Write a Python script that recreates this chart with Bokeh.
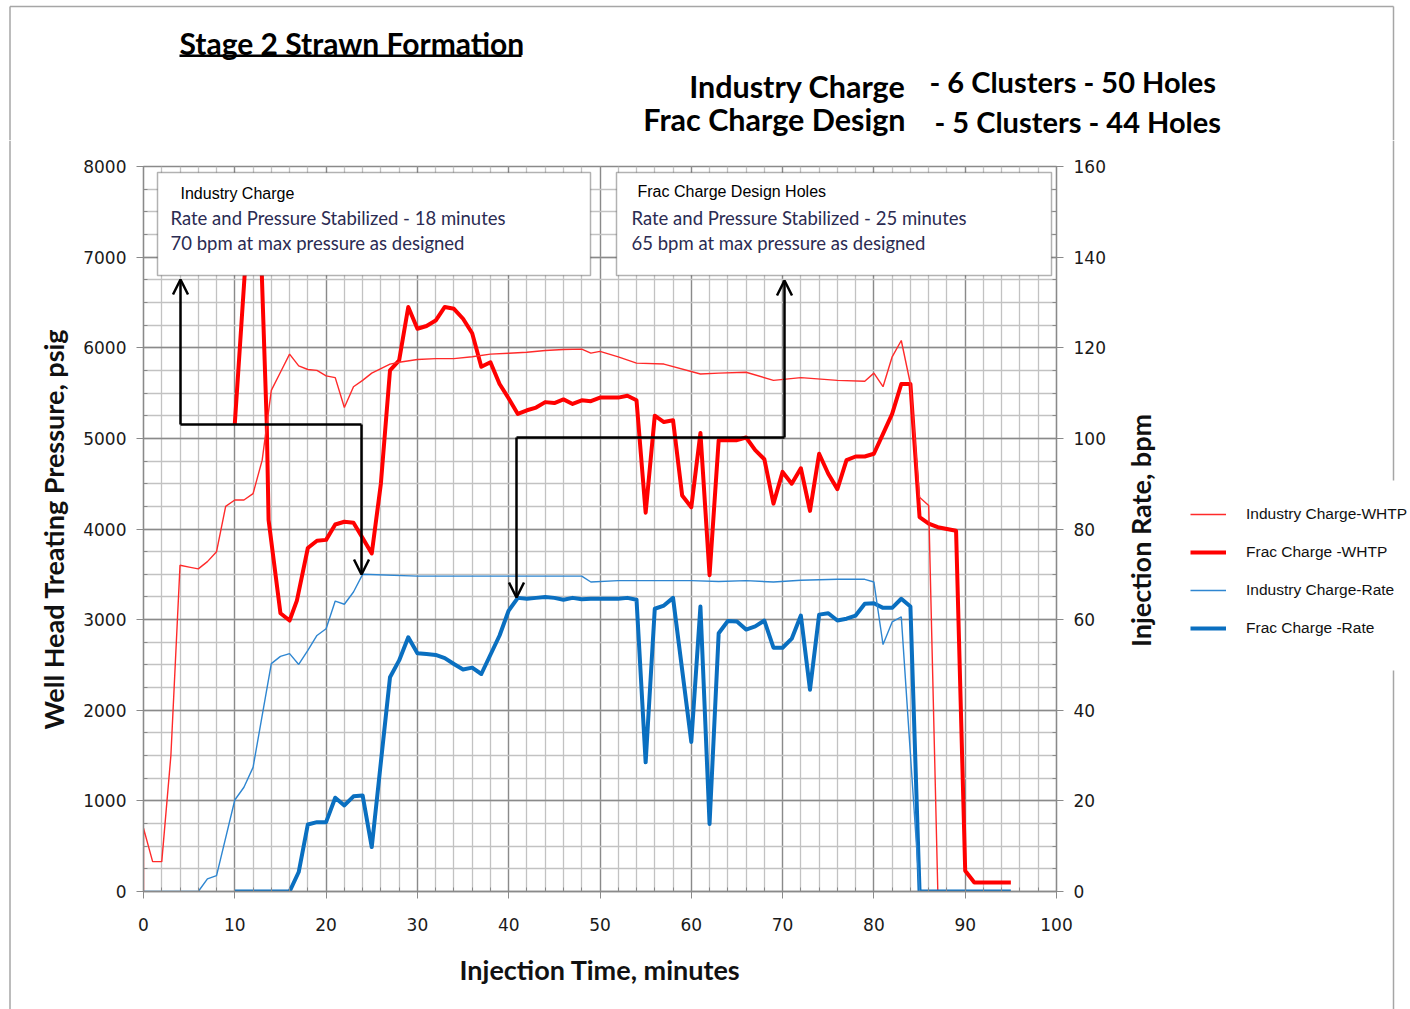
import math
from bokeh.plotting import figure
from bokeh.layouts import column, row
from bokeh.models import (Range1d, LinearAxis, FixedTicker, BoxAnnotation, Label, Arrow, OpenHead,
                          Legend, LegendItem)
from bokeh.embed import file_html
from bokeh.resources import INLINE

# ---------------- data ----------------
# Industry Charge - WHTP (psig)
ind_t = [0, 0, 1, 2, 3, 4, 5, 6, 7, 8, 9, 10, 11, 12, 13, 14, 15, 16, 17, 18, 19, 20, 21, 22, 23, 24, 25,
         26, 27, 28, 30, 32, 34, 36, 38, 40, 42, 44, 46, 48, 49, 50, 52, 54, 57, 61, 63, 66, 69, 72, 76, 79,
         80, 81, 82, 83, 84, 85, 86, 87]
ind_p = [0, 700, 330, 330, 1500, 3600, 3580, 3560, 3640, 3750, 4250, 4320, 4320, 4390, 4760, 5530, 5730,
         5930, 5800, 5760, 5750, 5690, 5670, 5340, 5570, 5640, 5720, 5770, 5820, 5840, 5870, 5880, 5880,
         5900, 5930, 5940, 5950, 5970, 5980, 5985, 5940, 5960, 5900, 5830, 5820, 5710, 5720, 5730, 5640,
         5670, 5640, 5630, 5720, 5570, 5900, 6080, 5600, 4350, 4260, 0]

# Frac Charge - WHTP (psig)
frac_t = [10, 11.8, 12.6, 13.5, 13.7, 15, 16, 16.8, 18, 19, 20, 21, 22, 23, 24, 25, 26, 27, 28, 29, 30,
          31, 32, 33, 34, 35, 36, 37, 38, 39, 40, 41, 42, 43, 44, 45, 46, 47, 48, 49, 50, 51, 52, 53, 54,
          55, 56, 57, 58, 59, 60, 61, 62, 63, 64, 65, 66, 67, 68, 69, 70, 71, 72, 73, 74, 75, 76, 77, 78,
          79, 80, 81, 82, 83, 84, 85, 86, 87, 88, 89, 90, 91, 92, 93, 94, 95]
frac_p = [5160, 7900, 7900, 5160, 4100, 3070, 2990, 3210, 3790, 3870, 3880, 4050, 4080, 4070, 3900, 3730,
          4500, 5750, 5860, 6450, 6210, 6240, 6300, 6450, 6430, 6320, 6160, 5790, 5840, 5600, 5440, 5270,
          5310, 5340, 5400, 5390, 5430, 5380, 5420, 5410, 5450, 5450, 5450, 5470, 5420, 4180, 5250, 5180,
          5200, 4370, 4240, 5060, 3490, 4980, 4980, 4980, 5010, 4870, 4770, 4280, 4630, 4500, 4670, 4200,
          4830, 4610, 4440, 4760, 4800, 4800, 4830, 5050, 5270, 5600, 5600, 4130, 4060, 4020, 4000, 3980,
          230, 100, 100, 100, 100, 100]

# Industry Charge - Rate (bpm)
indr_t = [0, 6, 7, 8, 10, 11, 12, 14, 15, 16, 17, 18, 19, 20, 21, 22, 23, 24, 30, 36, 42, 48, 49, 52,
          56, 60, 63, 66, 69, 72, 76, 79, 80, 81, 82, 83, 85]
indr_r = [0, 0, 2.8, 3.5, 20.2, 23.0, 27.4, 50.3, 51.9, 52.5, 50.1, 53.2, 56.5, 58.0, 64.1, 63.4, 66.1,
          70.0, 69.6, 69.6, 69.6, 69.6, 68.3, 68.6, 68.6, 68.6, 68.4, 68.6, 68.3, 68.7, 68.9, 68.9, 68.3,
          54.5, 59.5, 60.6, 0]

# Frac Charge - Rate (bpm)
fracr_t = [10, 16, 17, 18, 19, 20, 21, 22, 23, 24, 25, 27, 28, 29, 30, 31, 32, 33, 34, 35, 36, 37, 39,
           40, 41, 42, 43, 44, 45, 46, 47, 48, 49, 50, 51, 52, 53, 54, 55, 56, 57, 58, 60, 61, 62, 63, 64,
           65, 66, 67, 68, 69, 70, 71, 72, 73, 74, 75, 76, 77, 78, 79, 80, 81, 82, 83, 84, 85, 95]
fracr_r = [0, 0, 4.3, 14.8, 15.3, 15.3, 20.7, 19.0, 21.0, 21.2, 9.8, 47.3, 51.0, 56.1, 52.6, 52.4, 52.2,
           51.5, 50.2, 49.0, 49.4, 48.0, 56.5, 62.0, 64.8, 64.6, 64.8, 65.0, 64.8, 64.4, 64.8, 64.5, 64.6,
           64.6, 64.6, 64.6, 64.8, 64.4, 28.5, 62.4, 63.1, 64.8, 33.0, 62.9, 14.9, 57.0, 59.7, 59.6, 57.8,
           58.5, 59.8, 53.8, 53.8, 55.8, 60.9, 44.5, 61.1, 61.4, 59.8, 60.2, 60.9, 63.5, 63.6, 62.6, 62.6,
           64.6, 62.9, 0, 0]

series_names = ["Industry Charge-WHTP", "Frac Charge -WHTP", "Industry Charge-Rate", "Frac Charge -Rate"]

x_ticks = list(range(0, 101, 10))
x_minor = list(range(0, 101, 2))
p_ticks = list(range(0, 8001, 1000))
p_minor = list(range(0, 8001, 250))
r_ticks = list(range(0, 161, 20))
r_minor = list(range(0, 161, 5))

# ---------------- page geometry (image pixels) ----------------
W, H = 1410, 1009
HEAD_H = 140            # header strip height
STRIP_W = 20            # left strip (outer border)
MAIN_R = 1115           # right edge of main chart canvas
FL, FR, FT, FB = 143, 1056, 166, 891   # plot frame
BORDER_C = "#a6a6a6"

def dx(px):
    return (px - FL) * 100.0 / (FR - FL)
def dy(py):
    return (FB - py) * 8000.0 / (FB - FT)

def no_align(f):
    try:
        f.frame_align = False
    except Exception:
        pass
    return f

def blank(w, h, x0, x1, y0, y1):
    f = figure(width=w, height=h, x_range=Range1d(x0, x1), y_range=Range1d(y1, y0),
               x_axis_type=None, y_axis_type=None, min_border=0,
               toolbar_location=None, output_backend="svg")
    f.outline_line_color = None
    f.grid.visible = False
    return no_align(f)

# ---------------- header (titles) ----------------
head = blank(W, HEAD_H, 0, W, 0, HEAD_H)
head.segment(x0=[9.5, 9.5, 1393], y0=[6, 6, 6], x1=[1393, 9.5, 1393], y1=[6, HEAD_H, HEAD_H],
             line_color=BORDER_C, line_width=1.5)

def hlab(f, x, y, text, size, align="left", font="Lato", style="bold", color="black", angle=0.0):
    f.add_layout(Label(x=x, y=y, text=text, text_font=font, text_font_size=size, text_font_style=style,
                       text_color=color, text_align=align, text_baseline="middle", angle=angle))

hlab(head, 179, 42, "Stage 2 Strawn Formation", "30px")
head.add_layout(BoxAnnotation(left=179, right=521, top=54, bottom=56.5, fill_color="black",
                              fill_alpha=1, line_color=None))
hlab(head, 905, 85, "Industry Charge", "30.5px", align="right")
hlab(head, 929, 81, "- 6 Clusters - 50 Holes", "29px")
hlab(head, 905, 118, "Frac Charge Design", "30.5px", align="right")
hlab(head, 934, 121, "- 5 Clusters - 44 Holes", "29px")

# ---------------- left strip (outer border) ----------------
strip = blank(STRIP_W, H - HEAD_H, 0, STRIP_W, HEAD_H, H)
strip.segment(x0=[9.5], y0=[HEAD_H], x1=[9.5], y1=[H], line_color=BORDER_C, line_width=1.5)

# ---------------- main chart ----------------
p = figure(width=MAIN_R - STRIP_W, height=H - HEAD_H, x_range=Range1d(0, 100), y_range=Range1d(0, 8000),
           output_backend="svg", toolbar_location=None,
           min_border_left=FL - STRIP_W, min_border_right=MAIN_R - FR,
           min_border_top=FT - HEAD_H, min_border_bottom=H - FB)
no_align(p)
p.extra_y_ranges = {"rate": Range1d(0, 160)}
p.outline_line_color = "#8a8a8a"
p.outline_line_width = 1.3

xt = FixedTicker(ticks=x_ticks, minor_ticks=x_minor)
yt = FixedTicker(ticks=p_ticks, minor_ticks=p_minor)
rt = FixedTicker(ticks=r_ticks, minor_ticks=r_minor)
xax = p.xaxis[0]
lax = p.yaxis[0]
xax.ticker = xt
lax.ticker = yt
p.xgrid.ticker = xt
p.ygrid.ticker = yt
for g in (p.xgrid, p.ygrid):
    g.grid_line_color = "#8a8a8a"
    g.grid_line_width = 1.3
    g.minor_grid_line_color = "#c2c2c2"
    g.minor_grid_line_width = 1.3

rax = LinearAxis(y_range_name="rate", ticker=rt)
p.add_layout(rax, "right")

xax.axis_label = "Injection Time, minutes"
lax.axis_label = "Well Head Treating Pressure, psig"

for ax in (xax, lax, rax):
    ax.axis_line_color = "#8a8a8a"
    ax.axis_line_width = 1.3
    ax.major_tick_line_color = "#8a8a8a"
    ax.minor_tick_line_color = "#8a8a8a"
    ax.major_tick_out = 7
    ax.major_tick_in = 0
    ax.minor_tick_in = 4
    ax.minor_tick_out = 0
    ax.major_label_text_font = "DejaVu Sans"
    ax.major_label_text_font_size = "17px"
    ax.major_label_text_color = "#1a1a1a"
    ax.axis_label_text_font = "Lato"
    ax.axis_label_text_font_style = "bold"
    ax.axis_label_text_font_size = "27px"
    ax.axis_label_text_color = "#111111"
lax.major_label_standoff = 10
lax.axis_label_standoff = 10
xax.major_label_standoff = 19
xax.axis_label_standoff = 19
rax.major_label_standoff = 10

STY = {
    "Industry Charge-WHTP": dict(color="#ff2a2a", line_width=1.4),
    "Frac Charge -WHTP": dict(color="#ff0000", line_width=4),
    "Industry Charge-Rate": dict(color="#2e86d1", line_width=1.4),
    "Frac Charge -Rate": dict(color="#0a6fc0", line_width=4),
}
p.line(frac_t, frac_p, line_join="round", **STY["Frac Charge -WHTP"])
p.line(ind_t, ind_p, **STY["Industry Charge-WHTP"])
p.line(fracr_t, fracr_r, line_join="round", y_range_name="rate", **STY["Frac Charge -Rate"])
p.line(indr_t, indr_r, y_range_name="rate", **STY["Industry Charge-Rate"])

# arrows
akw = dict(line_color="black", line_width=2.5)
def head_():
    return OpenHead(size=15, line_color="black", line_width=2.5)
p.add_layout(Arrow(x_start=dx(180), y_start=dy(424), x_end=dx(180), y_end=dy(279), end=head_(), **akw))
p.add_layout(Arrow(x_start=dx(180), y_start=dy(424), x_end=dx(361), y_end=dy(424), end=None, **akw))
p.add_layout(Arrow(x_start=dx(361), y_start=dy(424), x_end=dx(361), y_end=dy(574), end=head_(), **akw))
p.add_layout(Arrow(x_start=dx(516), y_start=dy(437), x_end=dx(516), y_end=dy(597), end=head_(), **akw))
p.add_layout(Arrow(x_start=dx(516), y_start=dy(437), x_end=dx(784), y_end=dy(437), end=None, **akw))
p.add_layout(Arrow(x_start=dx(784), y_start=dy(437), x_end=dx(784), y_end=dy(280), end=head_(), **akw))

# text boxes
for l, r in ((157, 590), (616, 1051)):
    p.add_layout(BoxAnnotation(left=dx(l), right=dx(r), top=dy(172), bottom=dy(275),
                               fill_color="white", fill_alpha=1, line_color="black", line_width=1.5))

def lab(x, y, text, font="Lato", size="18.5px", color="#2b2b52"):
    p.add_layout(Label(x=dx(x), y=dy(y), text=text, text_font=font, text_font_size=size,
                       text_color=color, text_align="left", text_baseline="middle"))

lab(180, 193, "Industry Charge", font="Liberation Sans", size="16px", color="black")
lab(170, 217, "Rate and Pressure Stabilized  - 18 minutes")
lab(170, 242, "70 bpm at max pressure as designed")
lab(637, 191, "Frac Charge Design Holes", font="Liberation Sans", size="16px", color="black")
lab(631, 217, "Rate and Pressure Stabilized  - 25 minutes")
lab(631, 242, "65 bpm at max pressure as designed")

# ---------------- right strip: right axis title, legend, border ----------------
rs = blank(W - MAIN_R, H - HEAD_H, MAIN_R, W, HEAD_H, H)
rs.segment(x0=[1393, 1393], y0=[HEAD_H, 670], x1=[1393, 1393], y1=[480, H],
           line_color=BORDER_C, line_width=1.5)
hlab(rs, 1140, 530, "Injection Rate, bpm", "27px", align="center", color="#111111", angle=math.pi / 2)

# legend swatches (renderers kept outside the visible range of this strip)
dummies = {name: rs.line(x=[0, 1], y=[0, 0], **STY[name]) for name in series_names}
legend = Legend(items=[LegendItem(label=n, renderers=[dummies[n]]) for n in series_names],
                location=(1190 - MAIN_R, H - 638), padding=14, margin=0, spacing=18,
                glyph_height=20, label_height=20, glyph_width=36, label_standoff=20,
                border_line_color=None, background_fill_color="white", background_fill_alpha=1,
                label_text_font="Liberation Sans", label_text_font_size="15.5px",
                label_text_color="#111111")
rs.add_layout(legend)

layout = column(head, row(strip, p, rs))
open("out.html", "w").write(file_html(layout, INLINE))
